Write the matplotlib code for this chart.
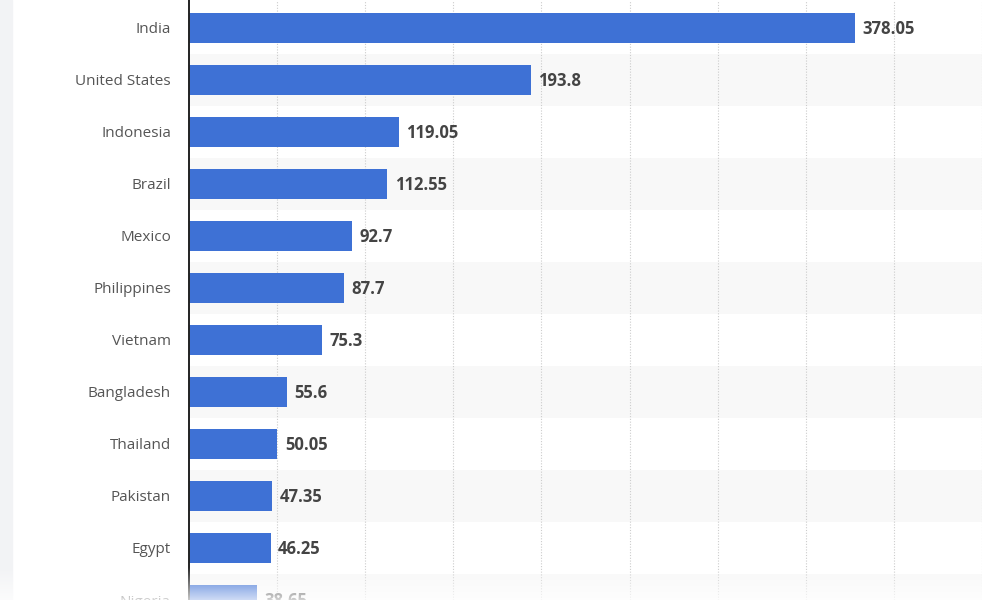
import numpy as np
import matplotlib
matplotlib.use('Agg')
import matplotlib.pyplot as plt
from matplotlib.patches import Rectangle

plt.rcParams['font.family'] = ['Open Sans', 'DejaVu Sans']

countries = ['India', 'United States', 'Indonesia', 'Brazil', 'Mexico', 'Philippines',
             'Vietnam', 'Bangladesh', 'Thailand', 'Pakistan', 'Egypt', 'Nigeria']
values = [378.05, 193.8, 119.05, 112.55, 92.7, 87.7, 75.3, 55.6, 50.05, 47.35, 46.25, 38.65]
value_labels = ['378.05', '193.8', '119.05', '112.55', '92.7', '87.7', '75.3', '55.6',
                '50.05', '47.35', '46.25', '38.65']

BAR_COLOR = '#3e71d5'
BAND_COLOR = '#f8f8f8'

fig = plt.figure(figsize=(10, 6), dpi=100)
ax = fig.add_axes([0.189, 0.0, 0.793, 1.0])

# light page strip on the left
fig.patches.append(Rectangle((0, 0), 0.012, 1, transform=fig.transFigure,
                             color='#f2f3f5', zorder=0))

y = np.arange(len(countries))

# alternating row bands
for i in y:
    if i % 2 == 1:
        ax.axhspan(i - 0.5, i + 0.5, color=BAND_COLOR, zorder=0, lw=0)

ax.barh(y, values, height=0.58, color=BAR_COLOR, zorder=3)

for yi, v, lab in zip(y, values, value_labels):
    ax.text(v + 4.3, yi + 0.02, lab, va='center', ha='left', fontsize=12,
            fontweight='bold', color='#444444', zorder=4)

ax.set_xlim(0, 450)
ax.set_ylim(10.96, -0.536)
ax.set_xticks(np.arange(50, 451, 50))
ax.xaxis.grid(True, linestyle=(0, (1, 1.5)), color='#cccccc', lw=0.8, zorder=1)
ax.set_axisbelow(True)
ax.tick_params(axis='x', bottom=False, labelbottom=False)

ax.set_yticks(y)
ax.set_yticklabels(countries, fontsize=11, color='#555555')
ax.tick_params(axis='y', length=0, pad=13)

for s in ['top', 'right', 'bottom']:
    ax.spines[s].set_visible(False)
ax.spines['left'].set_color('#222222')
ax.spines['left'].set_linewidth(1.4)
ax.spines['left'].set_zorder(5)

# white fade-out at the bottom
grad = np.zeros((100, 1, 4))
grad[..., :3] = 1.0
grad[:, 0, 3] = np.linspace(0.0, 0.75, 100)[::-1]
fade_ax = fig.add_axes([0, 0, 1, 0.055], zorder=10)
fade_ax.imshow(grad, aspect='auto', extent=[0, 1, 0, 1], origin='lower')
fade_ax.axis('off')

fig.savefig('out.png', dpi=100)
